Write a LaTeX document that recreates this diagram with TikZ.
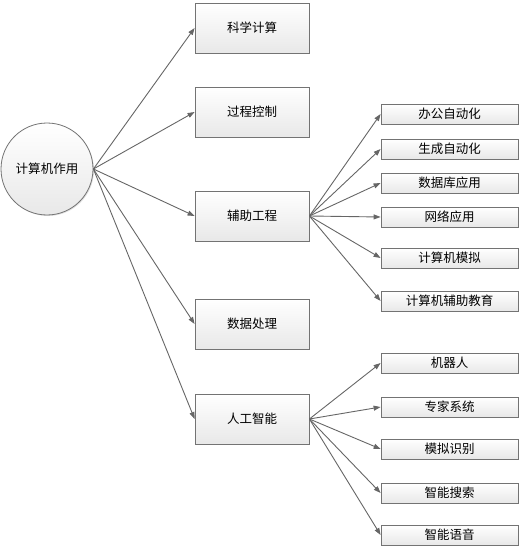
\documentclass[tikz,border=0pt]{standalone}
\usepackage{fontspec}
\setmainfont{Noto Sans CJK SC}
\usetikzlibrary{arrows.meta,shadows}
\begin{document}
\begin{tikzpicture}[x=1pt,y=-1pt,
  bigbox/.style={draw=gray!110,line width=0.8pt,top color=white,bottom color=gray!18,
    minimum width=114pt,minimum height=50pt,inner sep=0pt,font=\fontsize{12.5pt}{14pt}\selectfont,
    drop shadow={shadow xshift=1pt,shadow yshift=-1pt,opacity=0.25}},
  smallbox/.style={draw=gray!110,line width=0.8pt,top color=white,bottom color=gray!18,
    minimum width=137pt,minimum height=20pt,inner sep=0pt,font=\fontsize{12.5pt}{14pt}\selectfont,
    drop shadow={shadow xshift=1pt,shadow yshift=-1pt,opacity=0.25}},
  rootnode/.style={circle,draw=gray!110,line width=0.8pt,top color=white,bottom color=gray!18,
    minimum size=92pt,inner sep=0pt,font=\fontsize{12.5pt}{14pt}\selectfont,
    drop shadow={shadow xshift=1pt,shadow yshift=-1pt,opacity=0.25}},
  conn/.style={draw=gray!120,line width=0.9pt,-{Triangle[length=7pt,width=5pt]}}
]
\useasboundingbox (0,0) rectangle (521,548);
\node[rootnode] (root) at (47,169) {计算机作用};
\node[bigbox] (a1) at (252,28) {科学计算};
\node[bigbox] (a2) at (252,112) {过程控制};
\node[bigbox] (a3) at (252,216) {辅助工程};
\node[bigbox] (a4) at (252,324) {数据处理};
\node[bigbox] (a5) at (252,419) {人工智能};
\node[smallbox] (b1) at (449.5,114) {办公自动化};
\node[smallbox] (b2) at (449.5,149) {生成自动化};
\node[smallbox] (b3) at (449.5,183) {数据库应用};
\node[smallbox] (b4) at (449.5,217) {网络应用};
\node[smallbox] (b5) at (449.5,258) {计算机模拟};
\node[smallbox] (b6) at (449.5,301) {计算机辅助教育};
\node[smallbox] (c1) at (449.5,363) {机器人};
\node[smallbox] (c2) at (449.5,407) {专家系统};
\node[smallbox] (c3) at (449.5,449) {模拟识别};
\node[smallbox] (c4) at (449.5,493) {智能搜索};
\node[smallbox] (c5) at (449.5,535) {智能语音};
\foreach \t in {a1,a2,a3,a4,a5} \draw[conn] (root.east) -- (\t.west);
\foreach \t in {b1,b2,b3,b4,b5,b6} \draw[conn] (a3.east) -- (\t.west);
\foreach \t in {c1,c2,c3,c4,c5} \draw[conn] (a5.east) -- (\t.west);
\end{tikzpicture}
\end{document}
